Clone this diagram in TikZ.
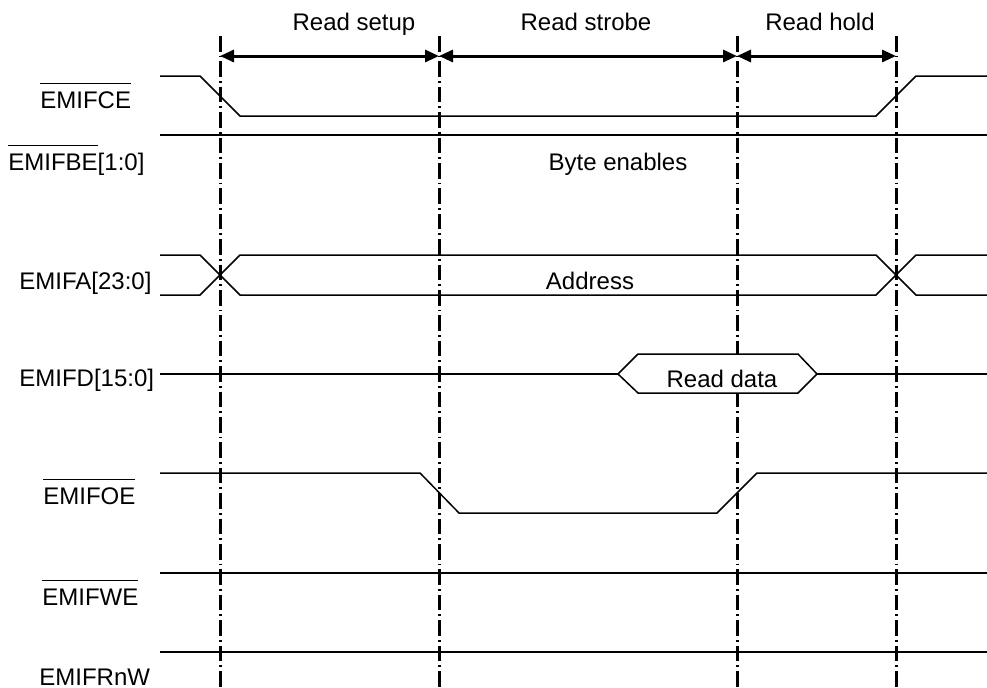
\documentclass[tikz,border=0pt]{standalone}
\usepackage{fontspec}
\setmainfont{Liberation Sans}
\usetikzlibrary{arrows.meta}

% text with a bar over it (active-low signal names)
\newsavebox\barbox
\newcommand\barred[1]{\sbox\barbox{#1}\rlap{\rule[1.0em]{\wd\barbox}{0.06em}}\usebox\barbox}

\begin{document}
\begin{tikzpicture}[x=0.5pt,y=-0.5pt,
  font=\fontsize{12}{14}\selectfont,
  sig/.style={line width=0.75pt, line join=miter},
  guide/.style={line width=1.5pt, dash pattern=on 7.8pt off 2pt on 0.9pt off 2pt},
  span/.style={line width=1.5pt, {Triangle[length=7pt,width=6pt]}-{Triangle[length=7pt,width=6pt]}},
  signame/.style={inner sep=0pt, anchor=base west},
  txt/.style={inner sep=0pt, anchor=base}]

\useasboundingbox (0,0) rectangle (987,687);

% timing guides
\foreach \g/\x in {a/220,b/439,c/737,d/896}{
  \coordinate (\g-top) at (\x,36);
  \coordinate (\g-bot) at (\x,687);
  \coordinate (\g-arr) at (\x,56);
  \draw[guide] (\g-top) -- (\g-bot);
}

% phase spans
\draw[span] (a-arr) -- (b-arr);
\draw[span] (b-arr) -- (c-arr);
\draw[span] (c-arr) -- (d-arr);
\node[txt] (tsetup)  at (354,30) {Read setup};
\node[txt] (tstrobe) at (586,30) {Read strobe};
\node[txt] (thold)   at (820,30) {Read hold};

% signal names
\node[signame] (nce)  at (40,108) {\barred{EMIFCE}};
\node[signame] (nbe)  at (8,170)  {\barred{EMIFBE}[1:0]};
\node[signame] (na)   at (19,289) {EMIFA[23:0]};
\node[signame] (nd)   at (19,386) {EMIFD[15:0]};
\node[signame] (noe)  at (43,504) {\barred{EMIFOE}};
\node[signame] (nwe)  at (42,605) {\barred{EMIFWE}};
\node[signame] (nrnw) at (39,685) {EMIFRnW};

% EMIFCE
\draw[sig] (160,76) -- (200,76) -- (240,116) -- (876,116) -- (916,76) -- (987,76);
% EMIFBE
\draw[sig] (160,135) -- (987,135);
\node[txt] (tbe) at (618,170) {Byte enables};
% EMIFA
\draw[sig] (160,255) -- (200,255) -- (240,295) -- (876,295) -- (916,255) -- (987,255);
\draw[sig] (160,295) -- (200,295) -- (240,255) -- (876,255) -- (916,295) -- (987,295);
\node[txt] (ta) at (590,289) {Address};
% EMIFD: data-valid window covers the guide behind it
\draw[sig] (160,374) -- (618,374);
\draw[sig] (817,374) -- (987,374);
\filldraw[sig, fill=white] (618,374) -- (638,354) -- (798,354) -- (817,374) -- (798,393) -- (638,393) -- cycle;
\node[txt] (td) at (722,387) {Read data};
% EMIFOE
\draw[sig] (160,473) -- (420,473) -- (459,513) -- (717,513) -- (757,473) -- (987,473);
% EMIFWE
\draw[sig] (160,573) -- (987,573);
% EMIFRnW
\draw[sig] (160,652) -- (987,652);
\end{tikzpicture}
\end{document}
